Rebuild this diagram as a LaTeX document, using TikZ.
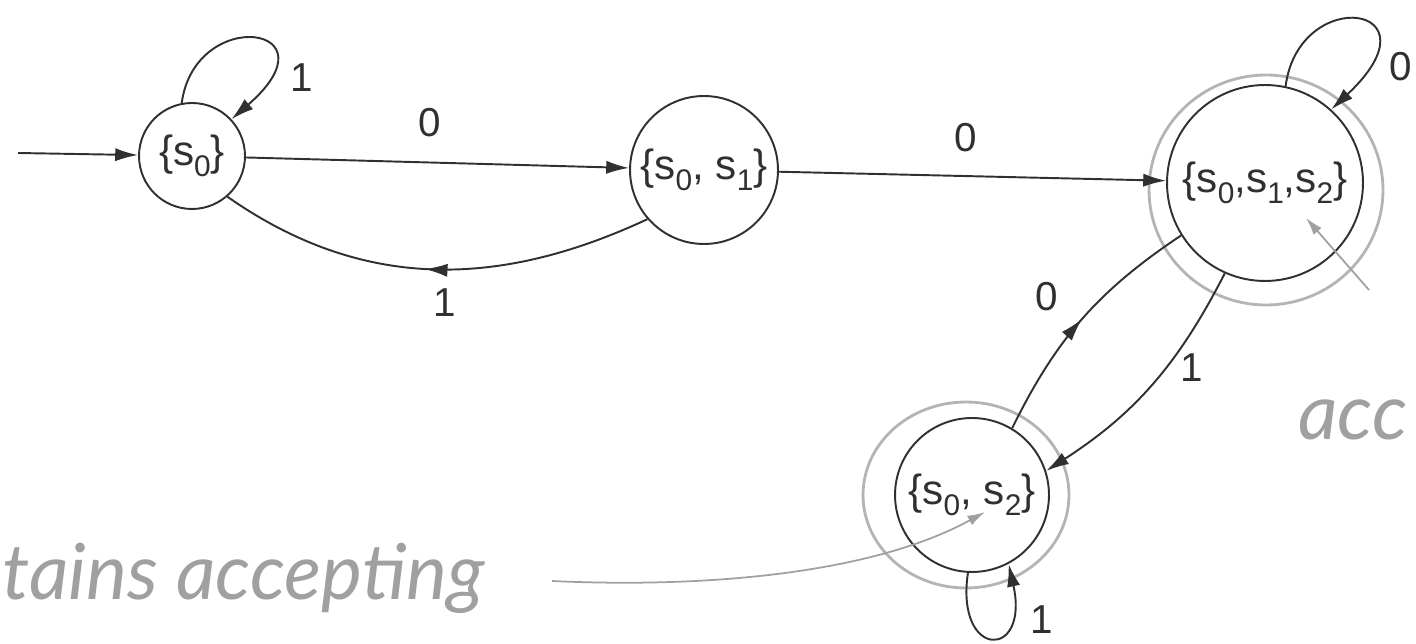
\documentclass[tikz,border=0pt]{standalone}
\usepackage{fontspec}
\setmainfont{Liberation Sans}
\newfontfamily\handfont{Lato}
\usetikzlibrary{arrows.meta,decorations.markings}
\definecolor{ink}{HTML}{303030}
\definecolor{pencil}{HTML}{A0A0A0}
\definecolor{ringgray}{HTML}{B4B4B4}
\newcommand\subi[1]{\raisebox{-0.5ex}{\fontsize{17}{17}\selectfont #1}}
\begin{document}
\begin{tikzpicture}[x=0.02cm,y=-0.02cm,
  st/.style={circle,draw=ink,line width=1.1pt,inner sep=0pt,text=ink,font=\fontsize{24}{27}\selectfont},
  lab/.style={font=\fontsize{23}{26}\selectfont,text=ink,inner sep=0pt},
  tip/.style={-{Latex[length=13pt,width=7.5pt]}},
  conn/.style={draw=ink,line width=1.1pt},
  midarrow/.style={postaction={decorate,decoration={markings,mark=at position #1 with {\arrow{Latex[length=13pt,width=7.5pt]}}}}},
  midarrow/.default=0.5,
  ringline/.style={draw=ringgray,line width=1.6pt},
  pen/.style={draw=pencil,line width=1pt},
  hand/.style={font=\handfont\itshape\fontsize{44}{48}\selectfont,text=pencil,inner sep=0pt}]
\useasboundingbox (0,0) rectangle (1416,644);

% hand-drawn accepting rings
\draw[ringline] (1266,190) ellipse [x radius=2.34cm, y radius=2.3cm];
\draw[ringline] (966,495) ellipse [x radius=2.06cm, y radius=1.86cm];

% states
\node[st,minimum size=2.12cm] (s0) at (192,156) {\{s\subi{0}\}};
\node[st,minimum size=2.96cm] (s01) at (704,170) {\{s\subi{0}, s\subi{1}\}};
\node[st,minimum size=3.92cm] (s012) at (1265,183) {\{s\subi{0},s\subi{1},s\subi{2}\}};
\node[st,minimum size=3.08cm] (s02) at (972,495) {\{s\subi{0}, s\subi{2}\}};

% initial arrow
\coordinate (init) at (18,153);
\draw[conn,tip] (init) -- (s0);

% transitions
\draw[conn,tip] (s0) -- (s01);
\draw[conn,tip] (s01) -- (s012);
\draw[conn,tip] (s0.101) .. controls (195,5) and (340,25) .. (s0.43);
\draw[conn,midarrow=0.52] (s01.-139) to[out=205,in=-35] (s0.-49);
\draw[conn,tip] (s012.78) .. controls (1299,-16) and (1444,4) .. (s012.48);
\draw[conn,tip] (s012.-114) to[bend left=15] (s02.18);
\draw[conn,midarrow] (s02.59) to[bend left=15] (s012.-148);
\draw[conn,tip] (s02.-93) .. controls (955,660) and (1030,660) .. (s02.-62);

% labels
\node[lab] (l1) at (302,78) {1};
\node[lab] (l2) at (430,123) {0};
\node[lab] (l3) at (445,303) {1};
\node[lab] (l4) at (966,138) {0};
\node[lab] (l5) at (1401,67) {0};
\node[lab] (l6) at (1047,297) {0};
\node[lab] (l7) at (1192,368) {1};
\node[lab] (l8) at (1042,620) {1};

% pencil annotations
\coordinate (pa) at (1369,290);
\coordinate (pb) at (1306,218);
\draw[pen,-{Latex[length=10pt,width=6pt]}] (pa) -- (pb);
\coordinate (pc) at (552,581);
\coordinate (pd) at (985,512);
\draw[pen,-{Latex[length=10pt,width=6pt]}] (pc) .. controls (700,588) and (870,575) .. (pd);
\node[hand,anchor=base west] (h1) at (2,600) {tains accepting};
\node[hand,anchor=base west] (h2) at (1298,440) {acc};
\end{tikzpicture}
\end{document}
